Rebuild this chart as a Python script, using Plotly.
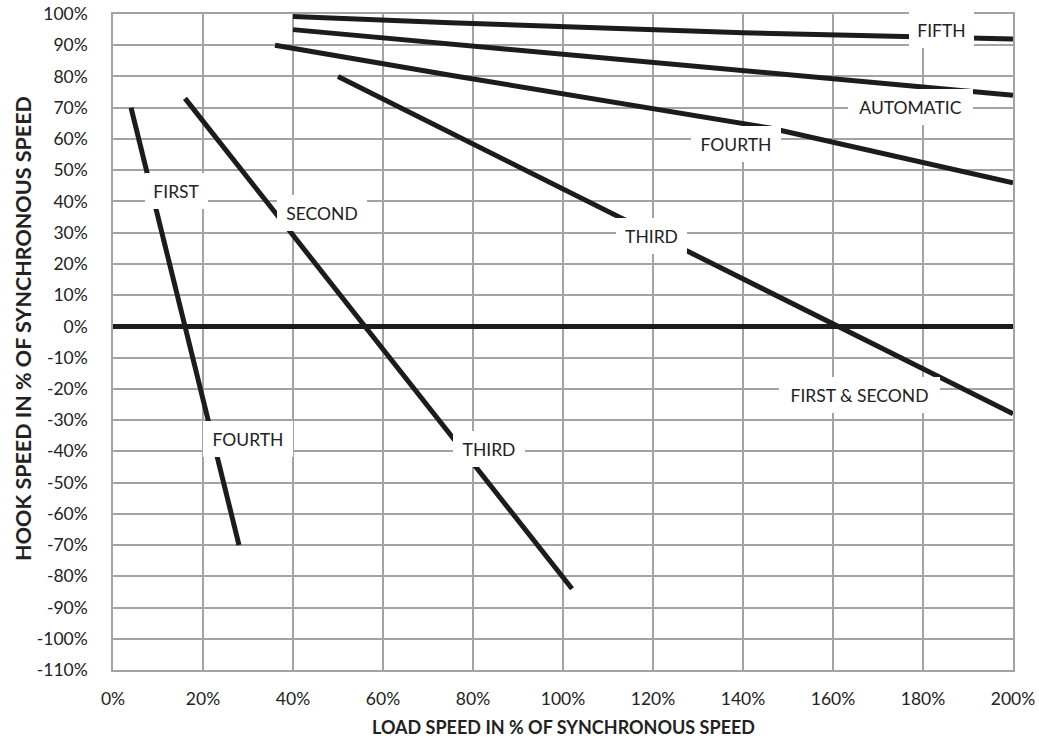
import plotly.graph_objects as go

# Load speed (x, % of synchronous) and hook speed (y, %) for each gear curve
first_fourth_x = [4, 28]
first_fourth_y = [70, -70]

second_third_x = [16, 102]
second_third_y = [73, -84]

third_firstsecond_x = [50, 200]
third_firstsecond_y = [80, -28]

fourth_x = [36, 75, 146, 200]
fourth_y = [90, 80.4, 63.5, 46]

automatic_x = [40, 200]
automatic_y = [95, 74]

fifth_x = [40, 75, 140, 200]
fifth_y = [99.2, 97.2, 94, 92]

# Curve labels: text, x, y, box width
label_text = ["FIRST", "FOURTH", "SECOND", "THIRD", "THIRD",
              "FIRST & SECOND", "FOURTH", "AUTOMATIC", "FIFTH"]
label_x = [14.2, 30.0, 46.4, 83.6, 119.6, 165.8, 138.4, 177.3, 184.2]
label_y = [43.4, -36.1, 36.2, -39.4, 28.8, -22.1, 58.5, 70.3, 94.9]
label_w = [63, 90, 90, 72, 71, 161, 90, 125, 65]

x_ticks = list(range(0, 201, 20))
y_ticks = list(range(-110, 101, 10))

FONT = "Lato, 'Open Sans', sans-serif"
TEXT = "#222222"
LINE = "#1c1c1c"
GRID = "#a3a3a3"

fig = go.Figure()

curves = [
    (first_fourth_x, first_fourth_y),
    (second_third_x, second_third_y),
    (third_firstsecond_x, third_firstsecond_y),
    (fourth_x, fourth_y),
    (automatic_x, automatic_y),
    (fifth_x, fifth_y),
]
for cx, cy in curves:
    fig.add_trace(go.Scatter(
        x=cx, y=cy, mode="lines",
        line=dict(color=LINE, width=5, shape="linear"),
        showlegend=False, hoverinfo="skip",
    ))

for t, lx, ly, w in zip(label_text, label_x, label_y, label_w):
    fig.add_annotation(
        x=lx, y=ly, xref="x", yref="y", text=t, showarrow=False,
        bgcolor="white", width=w, height=36, borderpad=0, borderwidth=0,
        font=dict(family=FONT, size=17.5, color=TEXT),
        xanchor="center", yanchor="middle",
    )

# Axis titles
fig.add_annotation(
    text="<b>LOAD SPEED IN % OF SYNCHRONOUS SPEED</b>",
    xref="paper", yref="paper", x=0.5, y=0, yshift=-57,
    xanchor="center", yanchor="middle", showarrow=False,
    font=dict(family=FONT, size=18, color=TEXT),
)
fig.add_annotation(
    text="<b>HOOK SPEED IN % OF SYNCHRONOUS SPEED</b>",
    xref="paper", yref="paper", x=0, y=0.52, xshift=-90,
    xanchor="center", yanchor="middle", showarrow=False, textangle=-90,
    font=dict(family=FONT, size=21.5, color=TEXT),
)

fig.update_layout(
    width=1039, height=745,
    margin=dict(l=113, r=26, t=14, b=75),
    paper_bgcolor="white", plot_bgcolor="white",
    font=dict(family=FONT, size=17.5, color=TEXT),
    xaxis=dict(
        range=[0, 200], tickvals=x_ticks,
        ticktext=[f"{v}%" for v in x_ticks],
        showgrid=True, gridcolor=GRID, gridwidth=1.5,
        showline=True, linecolor=GRID, linewidth=1.5, mirror=True,
        zeroline=False, ticks="", ticklabelstandoff=12, automargin=False,
    ),
    yaxis=dict(
        range=[-110, 100], tickvals=y_ticks,
        ticktext=[f"{v}%" for v in y_ticks],
        showgrid=True, gridcolor=GRID, gridwidth=1.5,
        showline=True, linecolor=GRID, linewidth=1.5, mirror=True,
        zeroline=True, zerolinecolor=LINE, zerolinewidth=4.5,
        ticks="", ticklabelstandoff=20, automargin=False,
    ),
)

fig.write_html("out.html")
